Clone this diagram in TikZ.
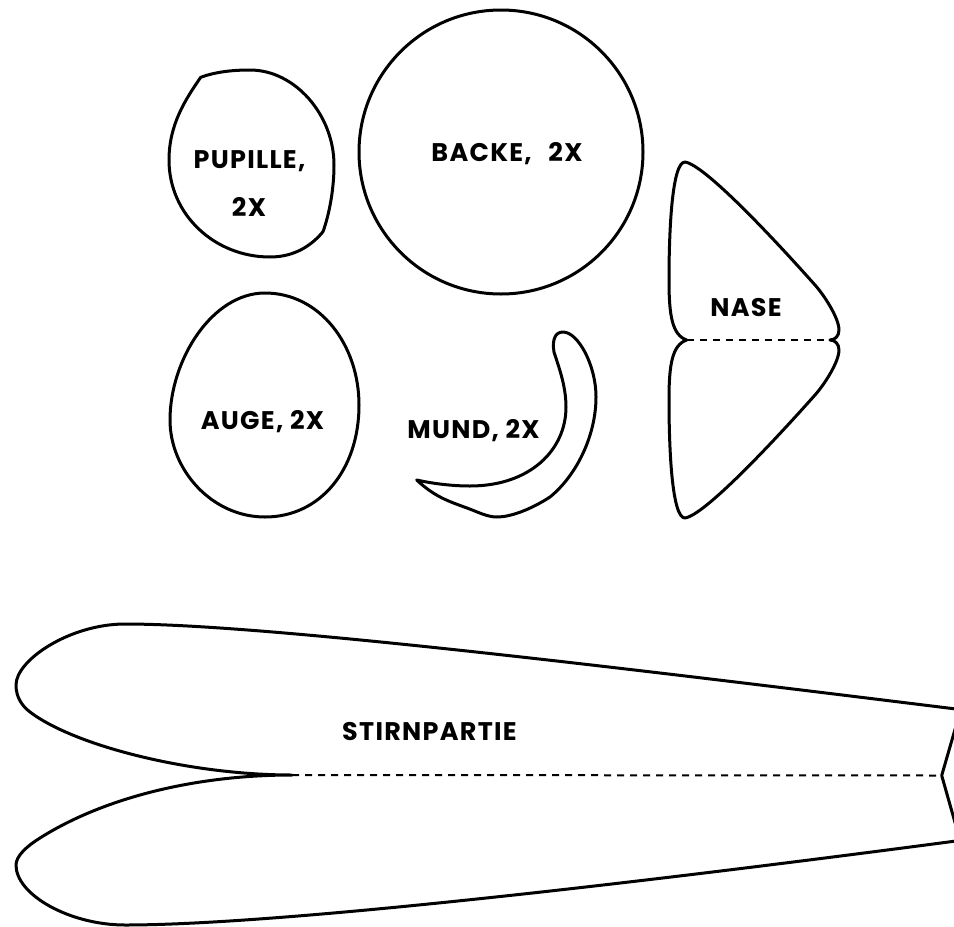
\documentclass[tikz,border=0pt]{standalone}
\usepackage{fontspec}
\setmainfont{Poppins}[BoldFont=Poppins Bold,LetterSpace=5]
\tikzset{
  cutline/.style={line width=3pt,line join=round,line cap=round,black},
  foldline/.style={line width=2pt,dash pattern=on 7pt off 6pt,black},
  lbl/.style={font=\fontsize{25.5}{26}\selectfont\bfseries,inner sep=0pt,text=black}
}
\begin{document}
\begin{tikzpicture}[x=1pt,y=-1pt]
\useasboundingbox (0,0) rectangle (954,927);
\clip (0,0) rectangle (954,927);
% Pupille
\draw[cutline] (200.7,77.3) .. controls (215,72) and (232,70) .. (250,70)
  .. controls (295,70) and (334,115) .. (334,165)
  .. controls (334,190) and (329,215) .. (323,231.7)
  .. controls (312,245) and (295,257) .. (270,257)
  .. controls (215,257) and (169,215) .. (169,160)
  .. controls (169,125) and (185,100) .. (200.7,77.3) -- cycle;
% Backe
\draw[cutline] (501,152) circle (142);
% Auge
\draw[cutline] (265,293) .. controls (320,293) and (359,345) .. (359,405)
  .. controls (359,470) and (320,517) .. (265,517)
  .. controls (212,517) and (170,470) .. (170,420)
  .. controls (170,360) and (212,293) .. (265,293) -- cycle;
% Nase
\draw[cutline] (686.7,340) .. controls (672,335) and (669,315) .. (669,280)
  .. controls (669,230) and (672,162) .. (685,162)
  .. controls (705,165) and (775,240) .. (815,285)
  .. controls (824,295) and (839,318) .. (839,330)
  .. controls (839,336) and (835,340) .. (830,340);
\draw[cutline] (686.7,340) .. controls (672,345) and (669,365) .. (669,400)
  .. controls (669,450) and (672,518) .. (685,518)
  .. controls (705,515) and (775,440) .. (815,395)
  .. controls (824,385) and (839,362) .. (839,350)
  .. controls (839,344) and (835,340) .. (830,340);
\coordinate (noseL) at (686.7,340);
\coordinate (noseR) at (830,340);
\draw[foldline] (noseL) -- (noseR);
% Mund
\draw[cutline] (416.7,480) .. controls (430,483) and (450,486) .. (470,486)
  .. controls (530,486) and (566,450) .. (566,407)
  .. controls (566,385) and (558,365) .. (554,352)
  .. controls (552,340) and (555,332) .. (563,332)
  .. controls (578,332) and (596,365) .. (596,397)
  .. controls (596,435) and (577,475) .. (550,497)
  .. controls (530,510) and (510,517) .. (497,517)
  .. controls (487,517) and (478,512) .. (467,508)
  .. controls (448,501) and (435,497) .. (416.7,480) -- cycle;
% Stirnpartie
\draw[cutline] (956,709) .. controls (600,665) and (260,624) .. (125,624)
  .. controls (70,624) and (16,660) .. (16,685)
  .. controls (16,697) and (22,706) .. (30,712)
  .. controls (75,746) and (190,775) .. (292,775)
  .. controls (190,775) and (100,800) .. (40,838)
  .. controls (27,846) and (16,856) .. (16,865)
  .. controls (16,895) and (70,925) .. (125,925)
  .. controls (270,925) and (600,888) .. (956,841);
\draw[cutline] (956,726) -- (941.7,775.5) -- (956,826);
\coordinate (stirnL) at (292,775);
\coordinate (stirnR) at (941.7,775.5);
\draw[foldline] (stirnL) -- (stirnR);
% Labels
\node[lbl] (pupille) at (249.5,161) {PUPILLE,};
\node[lbl] (zweix) at (249,207) {2X};
\node[lbl] (backe) at (507,154) {BACKE,\hspace{10pt} 2X};
\node[lbl] (nase) at (746,307.5) {NASE};
\node[lbl] (auge) at (262.5,422) {AUGE, 2X};
\node[lbl] (mund) at (473.5,431) {MUND, 2X};
\node[lbl] (stirn) at (429.5,731.5) {STIRNPARTIE};
\end{tikzpicture}
\end{document}
